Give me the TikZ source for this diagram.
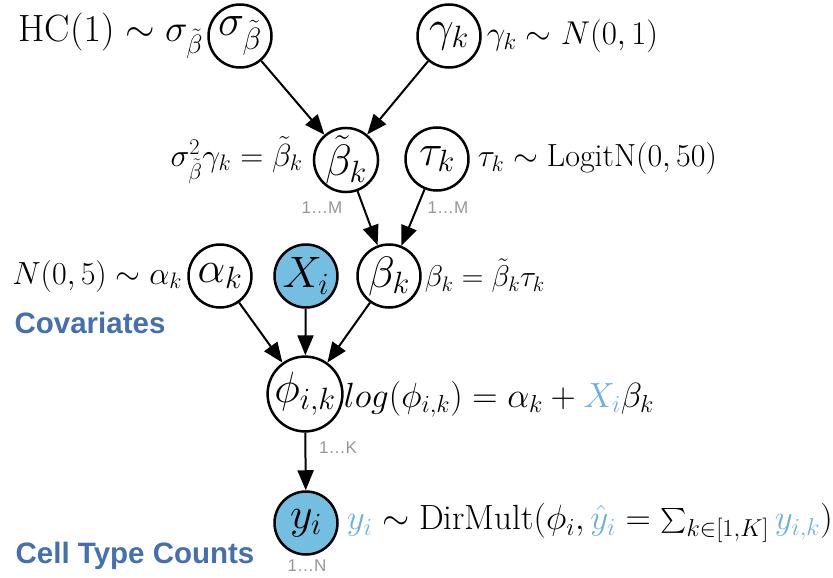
\RequirePackage{fix-cm}
\documentclass[tikz,border=0pt]{standalone}
\usepackage{amsmath}
\usepackage{fontspec}
\newfontfamily\labsans{Liberation Sans}
\usetikzlibrary{arrows.meta}
\definecolor{nodeblue}{RGB}{116,190,226}
\definecolor{txtblue}{RGB}{108,176,221}
\definecolor{headblue}{RGB}{68,112,176}
\definecolor{idxgray}{RGB}{150,150,150}
\newcommand{\fsz}[1]{\fontsize{#1}{#1}\selectfont}
\begin{document}
\begin{tikzpicture}[x=1pt,y=-1pt,
  rv/.style={circle,draw,line width=2.5pt,minimum size=63pt,inner sep=0pt,font=\fsz{44}},
  obs/.style={rv,fill=nodeblue},
  lbl/.style={font=\fsz{32},inner sep=0pt},
  idx/.style={font=\labsans\fsz{17},text=idxgray,inner sep=0pt},
  grp/.style={font=\labsans\bfseries\fsz{29.5},text=headblue,inner sep=0pt},
  edge/.style={line width=2pt,-{Triangle[length=20pt,width=16pt]}}]
\useasboundingbox (0,0) rectangle (833,578);
% nodes
\node[rv] (sig) at (240,36) {$\sigma_{\tilde\beta}$};
\node[rv] (gam) at (449,36) {$\gamma_k$};
\node[rv] (bt) at (346,160) {$\tilde\beta_k$};
\node[rv] (tau) at (437,159) {$\tau_k$};
\node[rv] (alp) at (220,276) {$\alpha_k$};
\node[obs] (X) at (306,276) {$X_i$};
\node[rv] (bet) at (389,276) {$\beta_k$};
\node[rv] (phi) at (305,394) {$\phi_{i,k}$};
\node[obs] (y) at (306,523) {$y_i$};
% labels
\node[lbl,anchor=east,font=\fsz{38}] (sigl) at ([xshift=-4pt]sig.west) {$\mathrm{HC}(1)\sim\sigma_{\tilde\beta}$};
\node[lbl,anchor=west,font=\fsz{33}] (gaml) at ([xshift=5pt]gam.east) {$\gamma_k\sim N(0,1)$};
\node[lbl,anchor=east] (btl) at ([xshift=-10pt]bt.west) {$\sigma^2_{\tilde\beta}\gamma_k=\tilde\beta_k$};
\node[lbl,anchor=west] (taul) at ([xshift=8pt]tau.east) {$\tau_k\sim\mathrm{LogitN}(0,50)$};
\node[lbl,anchor=east] (alpl) at ([xshift=-5pt]alp.west) {$N(0,5)\sim\alpha_k$};
\node[lbl,anchor=west,font=\fsz{30}] (betl) at ([xshift=3pt]bet.east) {$\beta_k=\tilde\beta_k\tau_k$};
\node[lbl,anchor=west,font=\fsz{35}] (phil) at ([xshift=0pt,yshift=-5pt]phi.east) {$log(\phi_{i,k})=\alpha_k+\textcolor{txtblue}{X_i}\beta_k$};
\node[lbl,anchor=west,font=\fsz{35}] (yl) at ([xshift=8pt]y.east) {$\textcolor{txtblue}{y_i}\sim\mathrm{DirMult}(\phi_i,\textcolor{txtblue}{\hat{y}_i}=\sum_{k\in[1,K]}\textcolor{txtblue}{y_{i,k}})$};
% group labels
\node[grp] (cov) at (90,323) {Covariates};
\node[grp] (ctc) at (135,556) {Cell Type Counts};
% index labels
\node[idx] (im1) at (322,208) {1…M};
\node[idx] (im2) at (448,208) {1…M};
\node[idx] (ik) at (338,448) {1…K};
\node[idx] (in) at (307,566) {1…N};
% edges
\draw[edge] (sig) -- (bt);
\draw[edge] (gam) -- (bt);
\draw[edge] (bt) -- (bet);
\draw[edge] (tau) -- (bet);
\draw[edge] (alp) -- (phi);
\draw[edge] (X) -- (phi);
\draw[edge] (bet) -- (phi);
\draw[edge] (phi) -- (y);
\end{tikzpicture}
\end{document}
